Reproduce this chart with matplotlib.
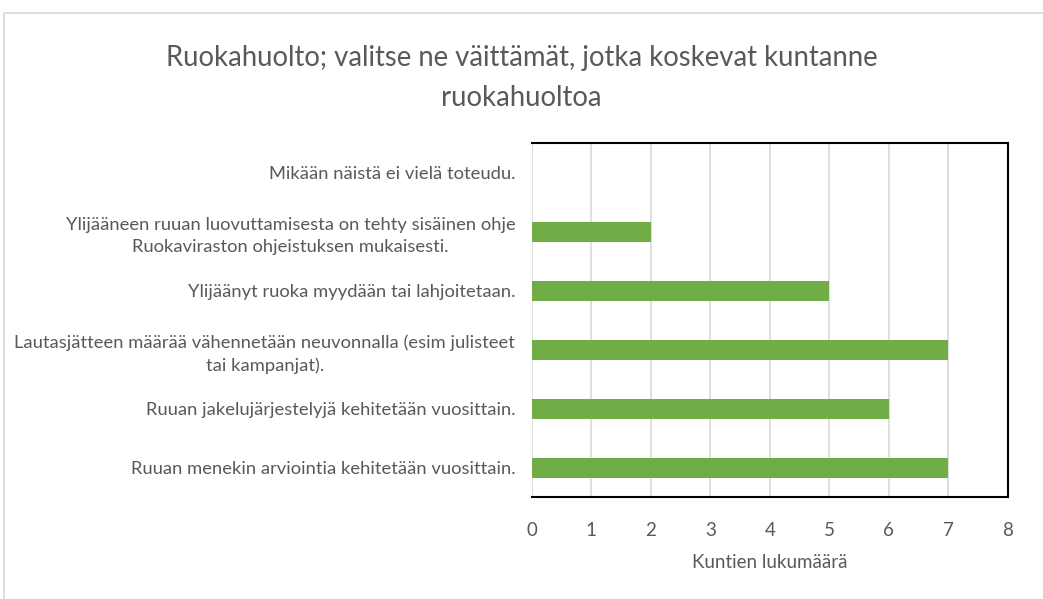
import matplotlib.pyplot as plt
from matplotlib.patches import Rectangle

# data (top to bottom as shown)
categories = [
    "Mikään näistä ei vielä toteudu.",
    "Ylijääneen ruuan luovuttamisesta on tehty sisäinen ohje\nRuokaviraston ohjeistuksen mukaisesti.",
    "Ylijäänyt ruoka myydään tai lahjoitetaan.",
    "Lautasjätteen määrää vähennetään neuvonnalla (esim julisteet\ntai kampanjat).",
    "Ruuan jakelujärjestelyjä kehitetään vuosittain.",
    "Ruuan menekin arviointia kehitetään vuosittain.",
]
counts = [0, 2, 5, 7, 6, 7]
xticks = [0, 1, 2, 3, 4, 5, 6, 7, 8]

title = "Ruokahuolto; valitse ne väittämät, jotka koskevat kuntanne\nruokahuoltoa"
xlabel = "Kuntien lukumäärä"


def main() -> None:
    plt.rcParams["font.family"] = ["Lato", "DejaVu Sans"]
    text_color = "#595959"

    fig = plt.figure(figsize=(10.43, 5.99), dpi=100)
    ax = fig.add_axes([0.510, 0.170, 0.456, 0.591])

    # outer chart frame
    fig.patches.append(Rectangle((4 / 1043, -0.01), 1.1, 1 - 13 / 599 + 0.01,
                                 transform=fig.transFigure, fill=False,
                                 edgecolor="#d9d9d9", linewidth=1.2))

    y = list(range(len(categories)))
    ax.barh(y, counts, height=0.34, color="#70ad47", zorder=3)

    ax.set_ylim(len(categories) - 0.5, -0.5)
    ax.set_xlim(0, 8)
    ax.set_xticks(xticks)
    ax.set_yticks(y)
    ax.set_yticklabels(categories)
    for lbl in ax.get_yticklabels():
        lbl.set_multialignment("center")
        lbl.set_linespacing(1.45)
    ax.tick_params(axis="y", length=0, pad=12, labelsize=13.2, labelcolor=text_color)
    ax.tick_params(axis="x", length=0, pad=18, labelsize=13.5, labelcolor=text_color)

    ax.grid(axis="x", color="#d9d9d9", linewidth=1.2, zorder=0)
    for side in ("top", "right", "bottom"):
        ax.spines[side].set_color("black")
        ax.spines[side].set_linewidth(1.5)
    ax.spines["left"].set_visible(False)

    ax.set_xlabel(xlabel, fontsize=13.5, color=text_color, labelpad=11)
    fig.suptitle(title, fontsize=19.8, color=text_color, y=0.925, linespacing=1.65)

    fig.savefig("out.png", dpi=100)


if __name__ == "__main__":
    main()
